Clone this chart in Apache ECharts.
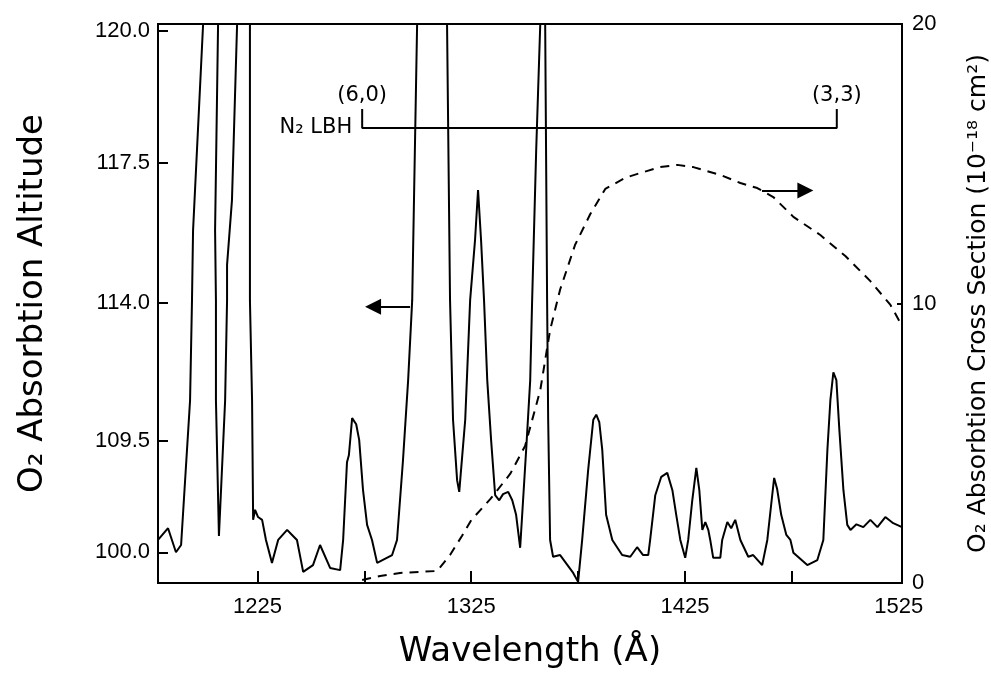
<!DOCTYPE html>
<html>
<head>
<meta charset="utf-8">
<script src="https://cdn.jsdelivr.net/npm/echarts@6/dist/echarts.min.js"></script>
<style>
  html, body { margin: 0; padding: 0; background: #fff; }
  #main { width: 991px; height: 673px; }
</style>
</head>
<body>
<div id="main"></div>
<script>
// emission spectrum (solid line): wavelength (A) / relative intensity on the left axis (0-100)
const specWave = [1178.5, 1183.2, 1186.9, 1189.3, 1193.5, 1194.4, 1194.9, 1199.6, 1202.8, 1206.6, 1205.2, 1205.6,
  1205.6, 1207.0, 1209.9, 1210.8, 1210.8, 1213.1, 1215.5, 1218.3, 1221.5, 1221.5, 1222.5, 1223.0,
  1223.9, 1225.3, 1227.2, 1229.0, 1231.8, 1234.7, 1238.9, 1241.2, 1243.5, 1246.4, 1251.0, 1254.3,
  1259.0, 1263.7, 1265.1, 1266.9, 1267.8, 1269.3, 1271.2, 1272.6, 1274.4, 1276.3, 1278.6, 1281.0,
  1288.0, 1290.3, 1293.1, 1295.5, 1297.4, 1299.7, 1306.7, 1313.7, 1315.1, 1316.5, 1318.4, 1319.4,
  1322.2, 1324.5, 1326.8, 1328.2, 1329.6, 1331.0, 1332.5, 1334.3, 1336.2, 1338.1, 1339.9, 1342.3,
  1344.2, 1346.0, 1347.9, 1350.7, 1352.6, 1353.5, 1355.4, 1357.3, 1358.4, 1359.6, 1360.5, 1361.0,
  1361.9, 1363.3, 1366.6, 1372.7, 1375.0, 1376.9, 1379.7, 1382.1, 1383.5, 1384.9, 1386.3, 1388.1,
  1391.0, 1395.6, 1399.4, 1402.6, 1405.4, 1407.8, 1408.7, 1411.1, 1413.9, 1416.7, 1419.1, 1420.9,
  1422.8, 1425.1, 1426.5, 1428.4, 1430.3, 1431.7, 1433.1, 1434.5, 1435.9, 1436.8, 1438.2, 1441.5,
  1442.4, 1444.8, 1446.6, 1448.5, 1450.9, 1454.6, 1456.9, 1461.1, 1463.5, 1465.3, 1466.7, 1468.1,
  1470.0, 1472.4, 1474.3, 1475.7, 1482.2, 1486.9, 1489.7, 1491.6, 1493.0, 1494.4, 1495.8, 1497.2,
  1499.1, 1500.9, 1502.4, 1505.2, 1508.4, 1511.7, 1515.0, 1518.7, 1522.4, 1526.5];
const specInt = [7.7, 9.8, 5.5, 6.8, 32.7, 50.6, 63.1, 100, 140, 100, 63.1, 50.6,
  32.7, 8.4, 32.7, 50.6, 56.9, 68.5, 100, 140, 100, 50.6, 32.7, 11.3,
  13.1, 11.8, 11.3, 7.7, 3.6, 7.7, 9.5, 8.6, 7.7, 2.0, 3.2, 6.8,
  2.7, 2.3, 7.7, 21.6, 22.9, 29.5, 28.4, 25.6, 16.6, 10.4, 7.7, 3.6,
  5.0, 7.7, 22.0, 36.3, 50.6, 100, 140, 100, 50.6, 29.2, 18.4, 16.3,
  29.2, 50.6, 61.4, 70.3, 61.4, 50.6, 36.3, 25.6, 15.7, 14.8, 15.9, 16.3,
  14.8, 12.2, 6.3, 23.8, 36.3, 50.6, 77.5, 100, 140, 100, 50.6, 29.2,
  7.7, 4.7, 5.0, 1.8, 0.2, 7.7, 20.2, 29.2, 30.1, 28.8, 23.8, 12.2,
  7.7, 5.0, 4.7, 6.4, 5.0, 5.0, 7.7, 15.7, 19.0, 19.7, 16.6, 12.2,
  7.7, 4.5, 7.7, 14.8, 20.6, 16.6, 9.5, 10.9, 9.5, 7.7, 4.5, 4.5,
  7.7, 10.9, 9.8, 11.3, 7.7, 4.7, 5.0, 3.2, 7.7, 14.0, 18.8, 16.8,
  12.2, 8.6, 7.7, 5.4, 3.2, 4.1, 7.7, 23.8, 32.7, 37.7, 36.3, 27.4,
  16.6, 10.4, 9.5, 10.5, 10.0, 11.3, 10.0, 11.8, 10.7, 10.0];

// O2 absorption cross section (dashed line), 10^-18 cm^2 on the right axis
const xsWave = [1274.0, 1282.4, 1291.7, 1309.1, 1315.1, 1320.8, 1325.0, 1333.9, 1343.2, 1350.2, 1357.3,
  1361.9, 1366.6, 1373.6, 1380.7, 1387.7, 1397.1, 1404.1, 1413.4, 1421.4, 1428.9, 1441.5, 1450.9,
  1458.8, 1466.3, 1475.7, 1488.3, 1500.0, 1511.7, 1521.1, 1526.5];
const xsVal = [0.11, 0.25, 0.36, 0.43, 1.0, 1.7, 2.25, 3.0, 3.9, 4.9, 6.9,
  9.05, 10.5, 12.1, 13.2, 14.1, 14.5, 14.67, 14.88, 14.96, 14.88, 14.6, 14.31,
  14.13, 13.81, 13.1, 12.45, 11.7, 10.8, 9.95, 9.2];

const waveTicks = [1225, 1275, 1325, 1375, 1425, 1475];
const waveLabels = [1225, 1325, 1425, 1525];
const altTickPos = [98.8, 75.1, 50.1, 25.4, 5.5];
const altTickLabels = ['120.0', '117.5', '114.0', '109.5', '100.0'];
const bandWave = [1274, 1496];
const bandNames = ['(6,0)', '(3,3)'];

const tickFont = 'Liberation Sans';
const titleFont = 'DejaVu Sans';

const chart = echarts.init(document.getElementById('main'));

const bracketTop = 84.8, bracketY = 81.4;

const arrowLine = function (from, to) {
  return {
    silent: true,
    symbol: ['none', 'triangle'],
    symbolSize: 16,
    label: { show: false },
    lineStyle: { color: '#000', width: 2, type: 'solid' },
    data: [[{ coord: from }, { coord: to }]]
  };
};

chart.setOption({
  animation: false,
  backgroundColor: '#fff',
  grid: {
    left: 158, right: 89, top: 24, bottom: 90,
    outerBoundsMode: 'none',
    containLabel: false,
    show: true, borderColor: '#000', borderWidth: 2
  },
  xAxis: {
    type: 'value',
    min: 1178.5,
    max: 1526.5,
    name: 'Wavelength (Å)',
    nameLocation: 'middle',
    nameGap: 52,
    nameTextStyle: { fontFamily: titleFont, fontSize: 34, color: '#000' },
    axisLine: { show: true, lineStyle: { color: '#000', width: 2 } },
    axisTick: { show: true, inside: true, length: 12, customValues: waveTicks, lineStyle: { color: '#000', width: 2 } },
    axisLabel: {
      customValues: waveLabels, fontFamily: tickFont, fontSize: 22, color: '#000', margin: 13,
      formatter: v => String(v)
    },
    splitLine: { show: false }
  },
  yAxis: [{
    type: 'value',
    min: 0,
    max: 100,
    name: 'O₂ Absorbtion Altitude',
    nameLocation: 'middle',
    nameRotate: 90,
    nameGap: 108,
    nameTextStyle: { fontFamily: titleFont, fontSize: 34, color: '#000' },
    axisLine: { show: true, lineStyle: { color: '#000', width: 2 } },
    axisTick: { show: true, inside: true, length: 10, customValues: altTickPos, lineStyle: { color: '#000', width: 2 } },
    axisLabel: {
      customValues: altTickPos,
      fontFamily: tickFont, fontSize: 22, color: '#000', margin: 8,
      formatter: function (v) {
        let best = 0;
        altTickPos.forEach(function (p, i) {
          if (Math.abs(p - v) < Math.abs(altTickPos[best] - v)) best = i;
        });
        return altTickLabels[best];
      }
    },
    splitLine: { show: false }
  }, {
    type: 'value',
    position: 'right',
    min: 0,
    max: 20,
    interval: 10,
    name: 'O₂ Absorbtion Cross Section (10⁻¹⁸ cm²)',
    nameLocation: 'middle',
    nameRotate: 90,
    nameGap: 64,
    nameTextStyle: { fontFamily: titleFont, fontSize: 25, color: '#000' },
    axisLine: { show: true, lineStyle: { color: '#000', width: 2 } },
    axisTick: { show: true, inside: true, length: 5, lineStyle: { color: '#000', width: 2 } },
    axisLabel: { fontFamily: tickFont, fontSize: 22, color: '#000', margin: 10 },
    splitLine: { show: false }
  }],
  series: [{
    name: 'spectrum',
    type: 'line',
    yAxisIndex: 0,
    data: specWave.map((w, i) => [w, specInt[i]]),
    symbol: 'none',
    clip: true,
    lineStyle: { color: '#000', width: 2 },
    markLine: arrowLine([1296.4, 49.4], [1279.1, 49.4])
  }, {
    name: 'cross section',
    type: 'line',
    yAxisIndex: 1,
    data: xsWave.map((w, i) => [w, xsVal[i]]),
    symbol: 'none',
    lineStyle: { color: '#000', width: 2, type: [9, 7] },
    markLine: arrowLine([1461, 14.04], [1481.3, 14.04])
  }, {
    name: 'N2 LBH',
    type: 'line',
    yAxisIndex: 0,
    data: [[bandWave[0], bracketTop], [bandWave[0], bracketY], [bandWave[1], bracketY], [bandWave[1], bracketTop]],
    symbol: 'none',
    lineStyle: { color: '#000', width: 2 },
    markPoint: {
      silent: true,
      symbol: 'circle',
      symbolSize: 0,
      label: { show: true, color: '#000', fontFamily: titleFont, fontSize: 21 },
      data: [
        { coord: [bandWave[0], bracketTop], label: { position: 'top', distance: 3, formatter: bandNames[0] } },
        { coord: [bandWave[1], bracketTop], label: { position: 'top', distance: 3, formatter: bandNames[1] } },
        { coord: [bandWave[0], bracketY], label: { position: 'left', distance: 10, formatter: 'N₂ LBH' } }
      ]
    }
  }]
});
</script>
</body>
</html>
